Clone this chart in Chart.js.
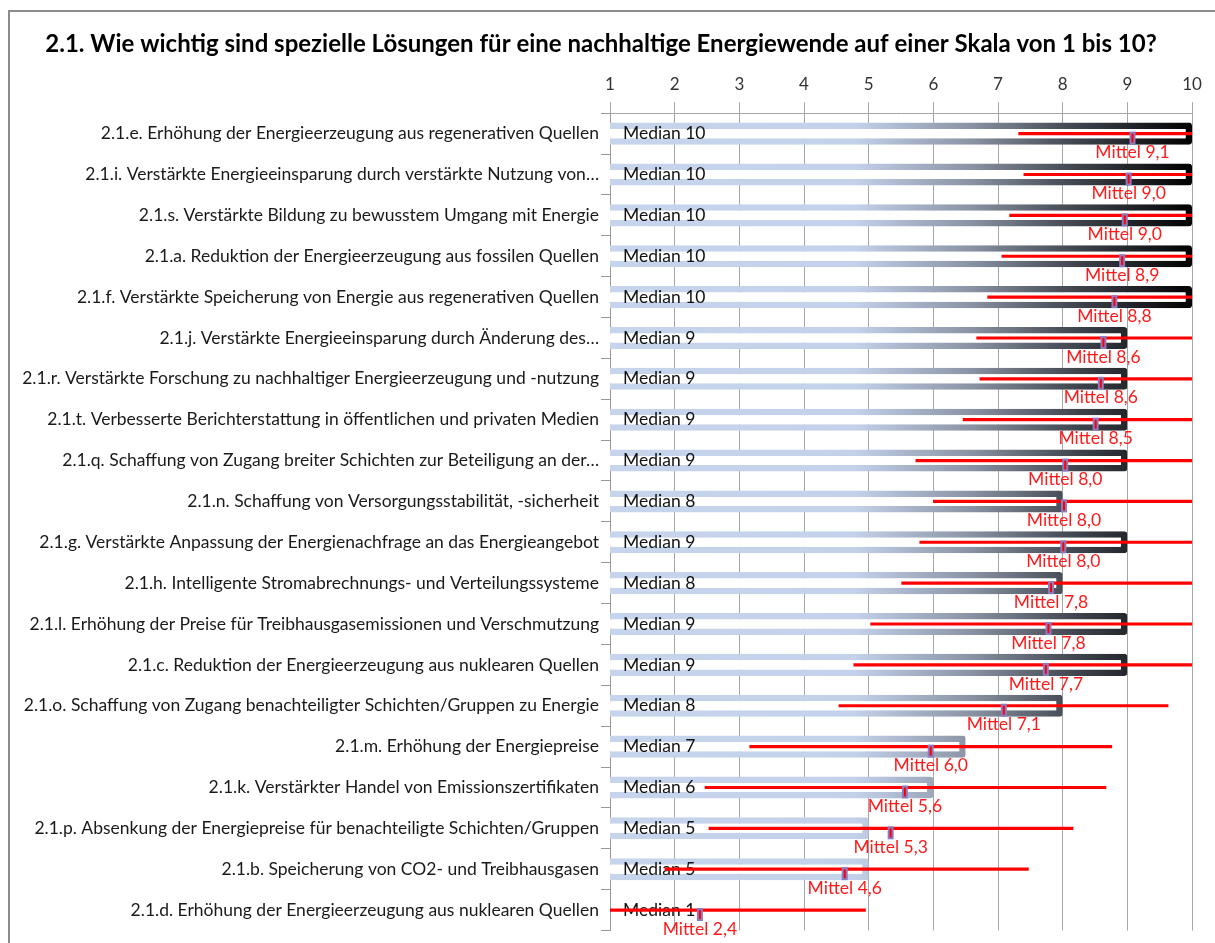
<!DOCTYPE html>
<html>
<head>
<meta charset="utf-8">
<title>2.1. Lösungen für eine nachhaltige Energiewende</title>
<script src="https://cdn.jsdelivr.net/npm/chart.js@4/dist/chart.umd.min.js"></script>
<style>
  html, body { margin: 0; padding: 0; background: #fff; }
  #wrap { position: relative; width: 1215px; height: 943px; }
</style>
</head>
<body>
<div id="wrap"><canvas id="chart"></canvas></div>
<script>
// ------------------------------
// DATA
// ------------------------------
const categories = [
    "2.1.e. Erhöhung der Energieerzeugung aus regenerativen Quellen",
    "2.1.i. Verstärkte Energieeinsparung durch verstärkte Nutzung von…",
    "2.1.s. Verstärkte Bildung zu bewusstem Umgang mit Energie",
    "2.1.a. Reduktion der Energieerzeugung aus fossilen Quellen",
    "2.1.f. Verstärkte Speicherung von Energie aus regenerativen Quellen",
    "2.1.j. Verstärkte Energieeinsparung durch Änderung des…",
    "2.1.r. Verstärkte Forschung zu nachhaltiger Energieerzeugung und -nutzung",
    "2.1.t. Verbesserte Berichterstattung in öffentlichen und privaten Medien",
    "2.1.q. Schaffung von Zugang breiter Schichten zur Beteiligung an der…",
    "2.1.n. Schaffung von Versorgungsstabilität, -sicherheit",
    "2.1.g. Verstärkte Anpassung der Energienachfrage an das Energieangebot",
    "2.1.h. Intelligente Stromabrechnungs- und Verteilungssysteme",
    "2.1.l. Erhöhung der Preise für Treibhausgasemissionen und Verschmutzung",
    "2.1.c. Reduktion der Energieerzeugung aus nuklearen Quellen",
    "2.1.o. Schaffung von Zugang benachteiligter Schichten/Gruppen zu Energie",
    "2.1.m. Erhöhung der Energiepreise",
    "2.1.k. Verstärkter Handel von Emissionszertifikaten",
    "2.1.p. Absenkung der Energiepreise für benachteiligte Schichten/Gruppen",
    "2.1.b. Speicherung von CO2- und Treibhausgasen",
    "2.1.d. Erhöhung der Energieerzeugung aus nuklearen Quellen"
];

const medians = [10, 10, 10, 10, 10, 9, 9, 9, 9, 8, 9, 8, 9, 9, 8, 6.5, 6, 5, 5, 1];
const means   = [9.08, 9.02, 8.96, 8.92, 8.80, 8.63, 8.59, 8.51, 8.04, 8.02,
                 8.01, 7.82, 7.78, 7.74, 7.09, 5.96, 5.56, 5.34, 4.63, 2.39];
// mean ± standard deviation (ends beyond the axis are estimated)
const errLow  = [7.32, 7.40, 7.18, 7.06, 6.84, 6.67, 6.72, 6.46, 5.73, 6.00,
                 5.79, 5.51, 5.03, 4.77, 4.54, 3.16, 2.47, 2.53, 1.85, -0.17];
const errHigh = [10.84, 10.64, 10.74, 10.78, 10.76, 10.59, 10.46, 10.56, 10.35, 10.04,
                 10.23, 10.13, 10.53, 10.71, 9.63, 8.76, 8.67, 8.16, 7.47, 4.95];

const titleText = "2.1. Wie wichtig sind spezielle Lösungen für eine nachhaltige Energiewende auf einer Skala von 1 bis 10?";
const scaleMin = 1;
const scaleMax = 10;

// ------------------------------
// STYLE
// ------------------------------
const FONT = "Lato, 'Open Sans', sans-serif";
const RED = "#ff0000";

let borderGrad = null;
function barBorder(ctx) {
    const area = ctx.chart.chartArea;
    if (!area) return "#c6d4ec";
    if (!borderGrad) {
        const g = ctx.chart.ctx.createLinearGradient(area.left, 0, area.right, 0);
        g.addColorStop(0, "#c6d4ec");
        g.addColorStop(0.42, "#c3d1ea");
        g.addColorStop(0.62, "#8a93a4");
        g.addColorStop(0.8, "#40454e");
        g.addColorStop(1, "#000000");
        borderGrad = g;
    }
    return borderGrad;
}

const fmt = (v) => v.toFixed(1).replace(".", ",");

// ------------------------------
// PLUGINS
// ------------------------------
const frame = {
    id: "frame",
    beforeDraw(chart) {
        const c = chart.ctx;
        c.save();
        c.fillStyle = "#fff";
        c.fillRect(0, 0, chart.width, chart.height);
        c.strokeStyle = "#8c8c8c";
        c.lineWidth = 2;
        c.strokeRect(9, 11, chart.width, chart.height);
        c.restore();
    }
};

// "Median x" text sits inside the bars, under the red lines
const medianLabels = {
    id: "medianLabels",
    beforeDatasetDraw(chart, args) {
        if (args.index !== 1) return;
        const c = chart.ctx;
        const y = chart.scales.y;
        c.save();
        c.font = "17.5px " + FONT;
        c.fillStyle = "#111";
        c.textAlign = "left";
        c.textBaseline = "middle";
        medians.forEach((m, i) => {
            c.fillText("Median " + Math.round(m), chart.chartArea.left + 13, y.getPixelForValue(i));
        });
        c.restore();
    }
};

// mean marker + "Mittel x,x" label
const meanMarks = {
    id: "meanMarks",
    afterDatasetsDraw(chart) {
        const c = chart.ctx;
        const x = chart.scales.x;
        const y = chart.scales.y;
        c.save();
        c.font = "17.5px " + FONT;
        c.textAlign = "center";
        c.textBaseline = "middle";
        means.forEach((m, i) => {
            const px = x.getPixelForValue(m);
            const py = y.getPixelForValue(i);
            c.fillStyle = "#8a7cc4";
            c.fillRect(px - 3, py - 2, 6, 13);
            c.fillStyle = RED;
            c.fillRect(px - 1, py, 2, 9);
            c.fillStyle = "#ff1a1a";
            c.fillText("Mittel " + fmt(m), px, py + 19);
        });
        c.restore();
    }
};

// ------------------------------
// CHART
// ------------------------------
new Chart(document.getElementById("chart"), {
    type: "bar",
    data: {
        labels: categories,
        datasets: [
            {
                label: "Median",
                data: medians.map(m => [scaleMin, m]),
                backgroundColor: "#ffffff",
                borderColor: barBorder,
                borderWidth: 6.5,
                borderRadius: 3,
                borderSkipped: "start",
                barPercentage: 0.54,
                categoryPercentage: 1,
                grouped: false,
                order: 2
            },
            {
                label: "Streuung",
                data: errLow.map((lo, i) => [lo, errHigh[i]]),
                backgroundColor: RED,
                borderWidth: 0,
                barThickness: 2.5,
                grouped: false,
                clip: 0,
                order: 1
            }
        ]
    },
    options: {
        indexAxis: "y",
        responsive: true,
        maintainAspectRatio: false,
        animation: false,
        layout: { padding: { left: 10, right: 23, top: 0, bottom: 11 } },
        plugins: {
            legend: { display: false },
            tooltip: { enabled: false },
            title: {
                display: true,
                text: titleText,
                color: "#000",
                font: { family: FONT, size: 24, weight: "bold" },
                padding: { top: 30, bottom: 9 }
            }
        },
        scales: {
            x: {
                position: "top",
                min: scaleMin,
                max: scaleMax,
                ticks: {
                    stepSize: 1,
                    color: "#333",
                    font: { family: FONT, size: 17 },
                    padding: 7
                },
                grid: { color: "#a6a6a6", tickLength: 11 },
                border: { color: "#a6a6a6" }
            },
            y: {
                ticks: {
                    color: "#1a1a1a",
                    font: { family: FONT, size: 17.5 },
                    padding: 2,
                    autoSkip: false
                },
                grid: { drawOnChartArea: false, color: "#999", tickLength: 9 },
                border: { color: "#999" },
                afterFit(scale) { scale.width = 600; }
            }
        }
    },
    plugins: [frame, medianLabels, meanMarks]
});
</script>
</body>
</html>
